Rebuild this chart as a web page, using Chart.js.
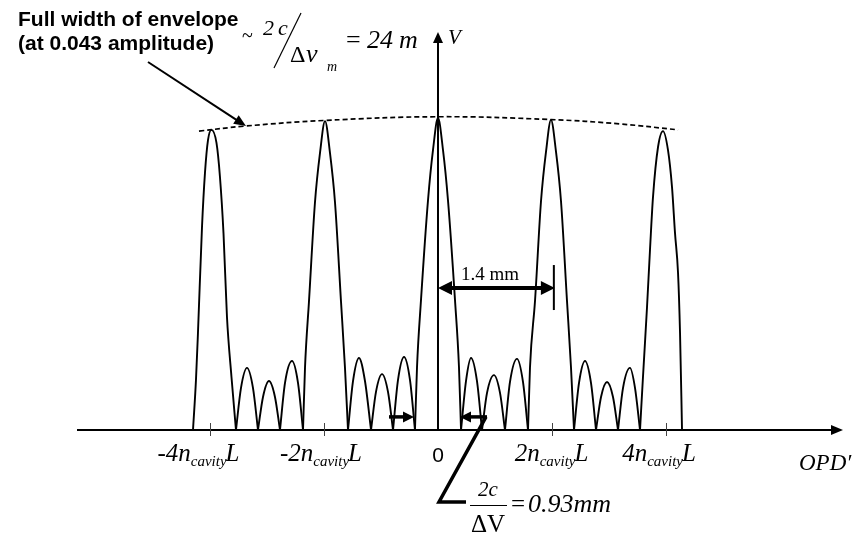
<!DOCTYPE html>
<html>
<head>
<meta charset="utf-8">
<script src="https://cdn.jsdelivr.net/npm/chart.js@4/dist/chart.umd.min.js"></script>
<style>
  html, body { margin: 0; padding: 0; background: #ffffff; }
  canvas { display: block; }
</style>
</head>
<body>
<canvas id="fringes" width="862" height="539"></canvas>
<script>
// Visibility V against optical path difference, OPD in units of n_cavity·L.
const opd = [
  -4.298, -4.246, -4.211, -4.140, -4.088, -4.035, -3.974, -3.886, -3.825, -3.763, -3.702, -3.623, -3.544,
  -3.456, -3.351, -3.246, -3.158,
  -3.070, -2.965, -2.860, -2.772,
  -2.684, -2.561, -2.456, -2.368,
  -2.333, -2.263, -2.158, -2.070, -1.982, -1.895, -1.807, -1.702, -1.632, -1.579,
  -1.491, -1.386, -1.281, -1.175,
  -1.088, -0.982, -0.877, -0.789,
  -0.702, -0.596, -0.491, -0.404,
  -0.368, -0.298, -0.175, -0.088, 0, 0.088, 0.175, 0.298, 0.368, 0.404,
  0.491, 0.579, 0.684, 0.772,
  0.860, 0.982, 1.088, 1.175,
  1.263, 1.386, 1.491, 1.579,
  1.614, 1.702, 1.807, 1.895, 1.982, 2.070, 2.158, 2.263, 2.333, 2.386,
  2.474, 2.579, 2.684, 2.772,
  2.860, 2.965, 3.070, 3.158,
  3.246, 3.368, 3.456, 3.544,
  3.596, 3.667, 3.719, 3.772, 3.860, 3.947, 4.035, 4.105, 4.158, 4.211, 4.246, 4.281
];
const vis = [
  0, 0.160, 0.311, 0.651, 0.824, 0.929, 0.962, 0.920, 0.811, 0.631, 0.362, 0.170, 0,
  0.135, 0.199, 0.135, 0,
  0.106, 0.157, 0.106, 0,
  0.151, 0.221, 0.151, 0,
  0.200, 0.413, 0.730, 0.888, 0.990, 0.888, 0.730, 0.413, 0.200, 0,
  0.157, 0.231, 0.157, 0,
  0.122, 0.179, 0.122, 0,
  0.160, 0.234, 0.160, 0,
  0.202, 0.417, 0.737, 0.897, 1.000, 0.897, 0.737, 0.417, 0.202, 0,
  0.157, 0.231, 0.157, 0,
  0.119, 0.176, 0.119, 0,
  0.154, 0.228, 0.154, 0,
  0.201, 0.414, 0.733, 0.892, 0.994, 0.892, 0.733, 0.414, 0.201, 0,
  0.151, 0.221, 0.151, 0,
  0.106, 0.154, 0.106, 0,
  0.135, 0.199, 0.135, 0,
  0.170, 0.394, 0.577, 0.747, 0.907, 0.958, 0.897, 0.779, 0.631, 0.503, 0.311, 0
];

// Envelope through the fringe maxima (dashed)
const envOpd = [-4.193, -3.386, -2.0, 0, 1.982, 3.193, 4.211];
const envVis = [0.958, 0.974, 0.992, 1.004, 0.995, 0.981, 0.962];

// Axis ticks and their labels (coefficient of n_cavity·L)
const tickValues = [-4, -2, 0, 2, 4];
const tickCoeffs = ['-4', '-2', '0', '2', '4'];

// Annotated spacings
const peakSpacing = { from: 0, to: 2.05, level: 0.455, label: '1.4 mm' };
const lobeGap = { left: -0.421, right: 0.386, level: 0.042 };

const SERIF = '"Liberation Serif", "Times New Roman", serif';
const SANS = '"Liberation Sans", Arial, sans-serif';
const labelNudge = [-11, -2.5, 0, 0, -6.5];

// Split the curve into separate arches at every zero so each join stays a sharp cusp.
function buildArches() {
  const arches = [];
  let cur = [];
  for (let i = 0; i < opd.length; i++) {
    const p = { x: opd[i], y: vis[i] };
    cur.push(p);
    if (vis[i] === 0 && cur.length > 1) {
      arches.push(cur);
      cur = [p];
    }
  }
  if (cur.length > 1) arches.push(cur);
  return arches;
}

const datasets = buildArches().map(arch => ({
  data: arch,
  borderColor: '#000000',
  borderWidth: 1.9,
  pointRadius: 0,
  fill: false,
  cubicInterpolationMode: 'monotone'
}));
datasets.push({
  data: envOpd.map((x, i) => ({ x, y: envVis[i] })),
  borderColor: '#000000',
  borderWidth: 1.7,
  borderDash: [5, 3],
  pointRadius: 0,
  fill: false,
  tension: 0.4
});

function arrowHead(ctx, x1, y1, x2, y2, len, half) {
  const a = Math.atan2(y2 - y1, x2 - x1);
  ctx.beginPath();
  ctx.moveTo(x2, y2);
  ctx.lineTo(x2 - len * Math.cos(a) + half * Math.sin(a), y2 - len * Math.sin(a) - half * Math.cos(a));
  ctx.lineTo(x2 - len * Math.cos(a) - half * Math.sin(a), y2 - len * Math.sin(a) + half * Math.cos(a));
  ctx.closePath();
  ctx.fill();
}
function arrow(ctx, x1, y1, x2, y2, width, len, half) {
  const a = Math.atan2(y2 - y1, x2 - x1);
  ctx.lineWidth = width;
  ctx.beginPath();
  ctx.moveTo(x1, y1);
  ctx.lineTo(x2 - (len * 0.8) * Math.cos(a), y2 - (len * 0.8) * Math.sin(a));
  ctx.stroke();
  arrowHead(ctx, x1, y1, x2, y2, len, half);
}

const axesPlugin = {
  id: 'opdAxes',
  beforeDatasetsDraw(chart) {
    const { ctx, chartArea, scales: { x, y } } = chart;
    const y0 = y.getPixelForValue(0);
    const x0 = x.getPixelForValue(0);
    ctx.save();
    ctx.strokeStyle = '#000';
    ctx.fillStyle = '#000';
    ctx.lineCap = 'butt';
    // horizontal OPD axis
    arrow(ctx, chartArea.left, y0, chartArea.right, y0, 2, 12, 5);
    // vertical V axis
    arrow(ctx, x0, y0, x0, chartArea.top, 2, 11, 5);
    // tick marks
    ctx.lineWidth = 1;
    ctx.strokeStyle = '#444';
    tickValues.forEach(v => {
      if (v === 0) return;
      const px = Math.round(x.getPixelForValue(v)) + 0.5;
      ctx.beginPath();
      ctx.moveTo(px, y0 - 7);
      ctx.lineTo(px, y0 + 6);
      ctx.stroke();
    });
    ctx.restore();
  },
  afterDraw(chart) {
    const { ctx, scales: { x, y } } = chart;
    const y0 = y.getPixelForValue(0);
    ctx.save();
    ctx.fillStyle = '#000';
    ctx.strokeStyle = '#000';
    ctx.textBaseline = 'alphabetic';

    // tick labels: coefficient n_cavity L
    tickValues.forEach((v, i) => {
      const cx = x.getPixelForValue(v) + labelNudge[i];
      if (v === 0) {
        ctx.font = '21px ' + SANS;
        ctx.textAlign = 'center';
        ctx.fillText('0', cx, y0 + 32);
        return;
      }
      const big = 'italic 25px ' + SERIF;
      const small = 'italic 15px ' + SERIF;
      ctx.font = big;
      const w1 = ctx.measureText(tickCoeffs[i] + 'n').width;
      const w3 = ctx.measureText('L').width;
      ctx.font = small;
      const w2 = ctx.measureText('cavity').width;
      let sx = cx - (w1 + w2 + w3) / 2;
      ctx.textAlign = 'left';
      ctx.font = big;
      ctx.fillText(tickCoeffs[i] + 'n', sx, y0 + 31);
      ctx.font = small;
      ctx.fillText('cavity', sx + w1, y0 + 36);
      ctx.font = big;
      ctx.fillText('L', sx + w1 + w2 - 1, y0 + 31);
    });

    // axis titles
    ctx.textAlign = 'left';
    ctx.font = 'italic 23px ' + SERIF;
    ctx.fillText('OPD\u2032', 799, y0 + 40);
    ctx.font = 'italic 21px ' + SERIF;
    ctx.fillText('V', 448, 44);

    // envelope annotation
    ctx.font = 'bold 21px ' + SANS;
    ctx.fillText('Full width of envelope', 18, 26);
    ctx.fillText('(at 0.043 amplitude)', 18, 50);
    arrow(ctx, 148, 62, x.getPixelForValue(envOpd[1]) + 1, y.getPixelForValue(envVis[1]), 2, 12, 5);

    // ~ 2c / Δν_m = 24 m
    ctx.font = '20px ' + SERIF;
    ctx.fillText('~', 242, 42);
    ctx.font = 'italic 22px ' + SERIF;
    ctx.fillText('2', 263, 35);
    ctx.fillText('c', 278, 35);
    ctx.lineWidth = 1.2;
    ctx.beginPath();
    ctx.moveTo(301, 13);
    ctx.lineTo(274, 68);
    ctx.stroke();
    ctx.font = '24px ' + SERIF;
    ctx.fillText('\u0394', 290, 62);
    ctx.font = 'italic 26px ' + SERIF;
    ctx.fillText('\u03BD', 306, 62);
    ctx.font = 'italic 14px ' + SERIF;
    ctx.fillText('m', 327, 71);
    ctx.font = '26px ' + SERIF;
    ctx.fillText('=', 346, 48);
    ctx.font = 'italic 26px ' + SERIF;
    ctx.fillText('24', 367, 48);
    ctx.fillText('m', 399, 48);

    // 1.4 mm spacing between orders
    const sx1 = x.getPixelForValue(peakSpacing.from);
    const sx2 = x.getPixelForValue(peakSpacing.to);
    const sy = y.getPixelForValue(peakSpacing.level);
    ctx.lineWidth = 4;
    ctx.beginPath();
    ctx.moveTo(sx1 + 10, sy);
    ctx.lineTo(sx2 - 10, sy);
    ctx.stroke();
    arrowHead(ctx, sx2, sy, sx1, sy, 14, 7);
    arrowHead(ctx, sx1, sy, sx2, sy, 14, 7);
    ctx.lineWidth = 2;
    ctx.beginPath();
    ctx.moveTo(sx2 - 1, sy - 23);
    ctx.lineTo(sx2 - 1, sy + 22);
    ctx.stroke();
    ctx.font = '19px ' + SERIF;
    ctx.fillText(peakSpacing.label, 461, sy - 8);

    // 2c/ΔV gap markers
    const gy = y.getPixelForValue(lobeGap.level);
    const gl = x.getPixelForValue(lobeGap.left);
    const gr = x.getPixelForValue(lobeGap.right);
    arrow(ctx, gl - 25, gy, gl, gy, 3.5, 11, 5.5);
    arrow(ctx, gr + 27, gy, gr, gy, 3.5, 11, 5.5);
    ctx.lineWidth = 3.5;
    ctx.lineJoin = 'miter';
    ctx.beginPath();
    ctx.moveTo(gr + 26, gy);
    ctx.lineTo(439, 502);
    ctx.lineTo(466, 502);
    ctx.stroke();

    // 2c / ΔV = 0.93mm
    ctx.textAlign = 'center';
    ctx.font = 'italic 21px ' + SERIF;
    ctx.fillText('2c', 488, 496);
    ctx.lineWidth = 1;
    ctx.beginPath();
    ctx.moveTo(470, 505.5);
    ctx.lineTo(507, 505.5);
    ctx.stroke();
    ctx.font = '25px ' + SERIF;
    ctx.fillText('\u0394V', 488, 532);
    ctx.textAlign = 'left';
    ctx.font = '25px ' + SERIF;
    ctx.fillText('=', 511, 512);
    ctx.font = 'italic 26px ' + SERIF;
    ctx.fillText('0.93mm', 528, 512);

    ctx.restore();
  }
};

new Chart(document.getElementById('fringes'), {
  type: 'line',
  data: { datasets },
  options: {
    responsive: false,
    animation: false,
    devicePixelRatio: 1,
    layout: { padding: { left: 77, right: 19, top: 32, bottom: 109 } },
    plugins: { legend: { display: false }, tooltip: { enabled: false } },
    scales: {
      x: { type: 'linear', min: -6.333, max: 7.105, display: false },
      y: { type: 'linear', min: 0, max: 1.2756, display: false }
    }
  },
  plugins: [axesPlugin]
});
</script>
</body>
</html>
